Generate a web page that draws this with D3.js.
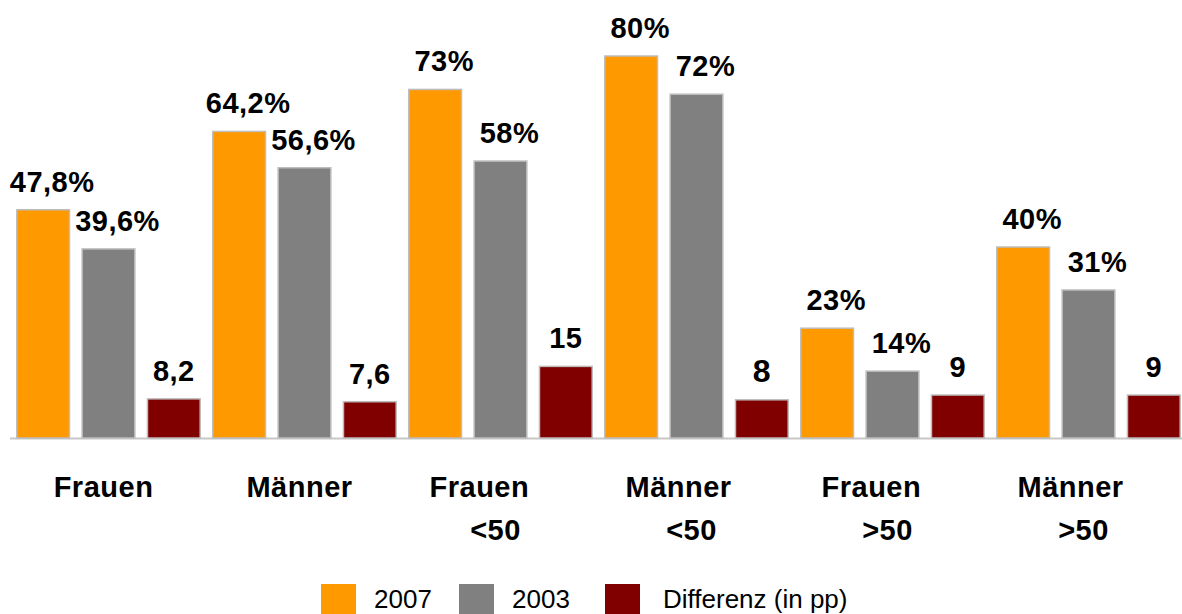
<!DOCTYPE html>
<html>
<head>
<meta charset="utf-8">
<script src="https://cdn.jsdelivr.net/npm/d3@7"></script>
<style>
  body { margin: 0; background: #fff; }
  svg { display: block; font-family: "Liberation Sans", Arial, sans-serif; }
</style>
</head>
<body>
<div id="chart"></div>
<script>
// data
const groups = [["Frauen"], ["Männer"], ["Frauen", "<50"], ["Männer", "<50"], ["Frauen", ">50"], ["Männer", ">50"]];
const series = ["2007", "2003", "Differenz (in pp)"];
const v2007 = [47.8, 64.2, 73, 80, 23, 40];
const v2003 = [39.6, 56.6, 58, 72, 14, 31];
const vDiff = [8.2, 7.6, 15, 8, 9, 9];
const lab2007 = ["47,8%", "64,2%", "73%", "80%", "23%", "40%"];
const lab2003 = ["39,6%", "56,6%", "58%", "72%", "14%", "31%"];
const labDiff = ["8,2", "7,6", "15", "8", "9", "9"];

const colors = ["#FF9900", "#808080", "#800000"];

const W = 1182, H = 614;
const svg = d3.select("#chart").append("svg")
    .attr("width", W)
    .attr("height", H);

const x0 = d3.scaleBand()
    .domain(d3.range(groups.length))
    .range([10.5, 1186.5])
    .padding(0);

const x1 = d3.scaleBand()
    .domain(d3.range(series.length))
    .range([0, x0.bandwidth()])
    .paddingInner(0.17)
    .paddingOuter(0.085);

const y = d3.scaleLinear()
    .domain([0, 80])
    .range([438, 56]);

const values = [v2007, v2003, vDiff];
const labels = [lab2007, lab2003, labDiff];

const rows = [];
groups.forEach((g, i) => {
  series.forEach((s, j) => {
    rows.push({ g: i, s: j, v: values[j][i], label: labels[j][i] });
  });
});

// baseline
svg.append("line")
    .attr("x1", 10).attr("x2", W)
    .attr("y1", y(0) + 0.5).attr("y2", y(0) + 0.5)
    .attr("stroke", "#c8c8c8")
    .attr("stroke-width", 2);

const bar = svg.append("g").selectAll("g")
    .data(rows)
    .join("g")
    .attr("transform", d => `translate(${x0(d.g) + x1(d.s)},0)`);

bar.append("rect")
    .attr("x", 0.75)
    .attr("width", x1.bandwidth() - 1.5)
    .attr("y", d => y(d.v))
    .attr("height", d => y(0) - y(d.v))
    .attr("fill", d => colors[d.s])
    .attr("stroke", "#bdbdbd")
    .attr("stroke-width", 1.5);

bar.append("text")
    .attr("x", d => x1.bandwidth() / 2 + (d.label.endsWith("%") ? 9 : 0))
    .attr("y", d => y(d.v) - 18)
    .attr("text-anchor", "middle")
    .attr("font-weight", "bold")
    .attr("font-size", d => d.label === "8" ? 32 : 29)
    .attr("letter-spacing", 0.5)
    .attr("fill", "#000")
    .text(d => d.label);

// category labels
const cat = svg.append("g").selectAll("text")
    .data(groups)
    .join("text")
    .attr("font-weight", "bold")
    .attr("font-size", 29)
    .attr("letter-spacing", 0.5)
    .attr("fill", "#000");

cat.each(function(lines, i) {
  const cx = x0(i) + x0.bandwidth() / 2 - 5;
  const t = d3.select(this);
  if (lines.length === 1) {
    t.append("tspan").attr("x", cx).attr("y", 497)
      .attr("text-anchor", "middle").text(lines[0]);
  } else {
    t.append("tspan").attr("x", cx - 66).attr("y", 497)
      .attr("text-anchor", "start").text(lines[0]);
    t.append("tspan").attr("x", cx).attr("y", 540)
      .attr("text-anchor", "middle").text(lines[1]);
  }
});

// legend
const legendX = [321, 459, 605];
const leg = svg.append("g").selectAll("g")
    .data(series)
    .join("g")
    .attr("transform", (d, i) => `translate(${legendX[i]},584)`);

leg.append("rect")
    .attr("width", 35)
    .attr("height", 35)
    .attr("fill", (d, i) => colors[i]);

leg.append("text")
    .attr("x", (d, i) => i === 2 ? 58 : 53)
    .attr("y", 24)
    .attr("font-size", 26)
    .attr("fill", "#000")
    .text(d => d);
</script>
</body>
</html>
